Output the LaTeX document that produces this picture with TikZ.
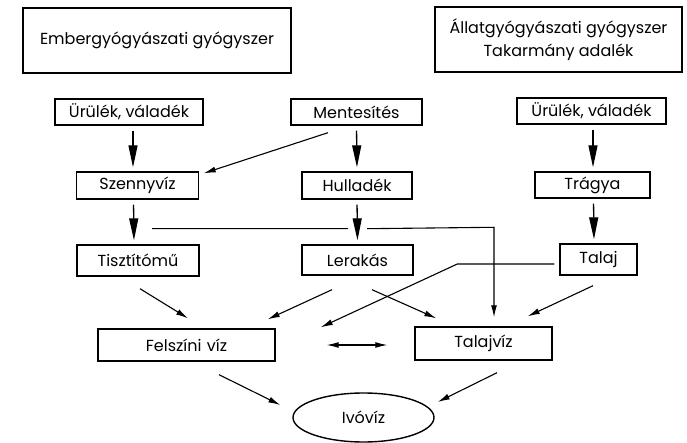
\documentclass[tikz,border=0pt]{standalone}
\usepackage{fontspec}
\setmainfont{Poppins}
\usetikzlibrary{arrows.meta,calc,shapes.geometric}

\begin{document}
\begin{tikzpicture}[x=1pt,y=-1pt, font=\fontsize{16}{23}\selectfont]
        \tikzstyle{box}=[draw, line width=1.4pt, inner sep=0pt]
        \tikzstyle{bigarrow}=[line width=1.3pt, -{Triangle[length=22pt,width=9pt]}, shorten <=5pt, shorten >=4pt]
        \tikzstyle{thinarrow}=[line width=1.1pt, -{Latex[length=12pt,width=6pt]}]
        \useasboundingbox (0,0) rectangle (687,443);
        % sources
        \node [box, minimum width=268pt, minimum height=65pt] (emb) at (157,40.5) {Embergyógyászati gyógyszer};
        \node [box, minimum width=247pt, minimum height=65pt, align=center] (allat) at (558.5,39.5) {Állatgyógyászati gyógyszer\\Takarmány adalék};
        \node [box, minimum width=148pt, minimum height=26pt] (urulekA) at (129,112) {Ürülék, váladék};
        \node [box, minimum width=131pt, minimum height=26pt] (mentes) at (356.5,112) {Mentesítés};
        \node [box, minimum width=149pt, minimum height=26pt] (urulekB) at (591.5,111) {Ürülék, váladék};
        \node [box, minimum width=122pt, minimum height=27pt] (szenny) at (137.5,185.5) {Szennyvíz};
        \node [box, minimum width=110pt, minimum height=27pt] (hullad) at (357,185.5) {Hulladék};
        \node [box, minimum width=115pt, minimum height=26pt] (tragya) at (592.5,185) {Trágya};
        \node [box, minimum width=122pt, minimum height=31pt] (tiszt) at (138,260.5) {Tisztítómű};
        \node [box, minimum width=111pt, minimum height=30pt] (lerak) at (357.5,260) {Lerakás};
        \node [box, minimum width=77pt, minimum height=31pt] (talaj) at (598.5,259.5) {Talaj};
        \node [box, minimum width=177pt, minimum height=32pt] (felsz) at (186.5,345) {Felszíni\,\,víz};
        \node [box, minimum width=137pt, minimum height=33pt] (talajviz) at (483.5,343.5) {Talajvíz};
        \node [box, ellipse, minimum width=141pt, minimum height=49pt] (ivoviz) at (363.5,417.5) {Ivóvíz};
        % vertical arrows
        \draw [bigarrow] ([xshift=4pt]urulekA.south) -- ([xshift=-4.5pt]szenny.north);
        \draw [bigarrow] ([xshift=-4pt]szenny.south) -- ([xshift=-4pt]tiszt.north);
        \draw [bigarrow] (mentes.south) -- (hullad.north);
        \draw [bigarrow] (hullad.south) -- (lerak.north);
        \draw [bigarrow] ([xshift=1.5pt]urulekB.south) -- ([xshift=0.5pt]tragya.north);
        \draw [bigarrow] ([xshift=1pt]tragya.south) -- ([xshift=-4.5pt]talaj.north);
        % crossing lines
        \coordinate (brStart) at ($(szenny.south)+(14.5,29)$);
        \coordinate (gapL) at ($(hullad.south)+(-9,29)$);
        \coordinate (gapR) at ($(hullad.south)+(10,29)$);
        \coordinate (brCorner) at ($(talajviz.north)+(10.5,-99)$);
        \draw [thinarrow] (brStart) -- (gapL) (gapR) -- (brCorner) -- ($(talajviz.north)+(10.5,-9)$);
        \draw [thinarrow] ($(talaj.west)+(-5,4.5)$) -- ($(talaj.west)+(-102,4.5)$) -- ($(felsz.north east)+(45,-1)$);
        % diagonal arrows
        \draw [thinarrow] ($(mentes.south)+(-28.5,7)$) -- ($(szenny.north east)+(4.5,2)$);
        \draw [thinarrow] ($(tiszt.south)+(2,12)$) -- ($(felsz.north)+(1.5,-10)$);
        \draw [thinarrow] ($(lerak.south)+(-25.5,14)$) -- ($(felsz.north east)+(-8,-9)$);
        \draw [thinarrow] ($(lerak.south)+(14.5,14)$) -- ($(talajviz.north west)+(22,-8)$);
        \draw [thinarrow] ($(talaj.south)+(-5.5,10)$) -- ($(talajviz.north east)+(-25,-10)$);
        \draw [thinarrow, {Latex[length=12pt,width=6pt]}-{Latex[length=12pt,width=6pt]}] ($(felsz.east)+(51,0)$) -- ($(talajviz.west)+(-27,1.5)$);
        \draw [thinarrow] ($(felsz.south)+(32.5,13)$) -- ($(ivoviz.west)+(-12,-12.5)$);
        \draw [thinarrow] ($(talajviz.south)+(13.5,12)$) -- ($(ivoviz.east)+(3,-15.5)$);
    \end{tikzpicture}
\end{document}
